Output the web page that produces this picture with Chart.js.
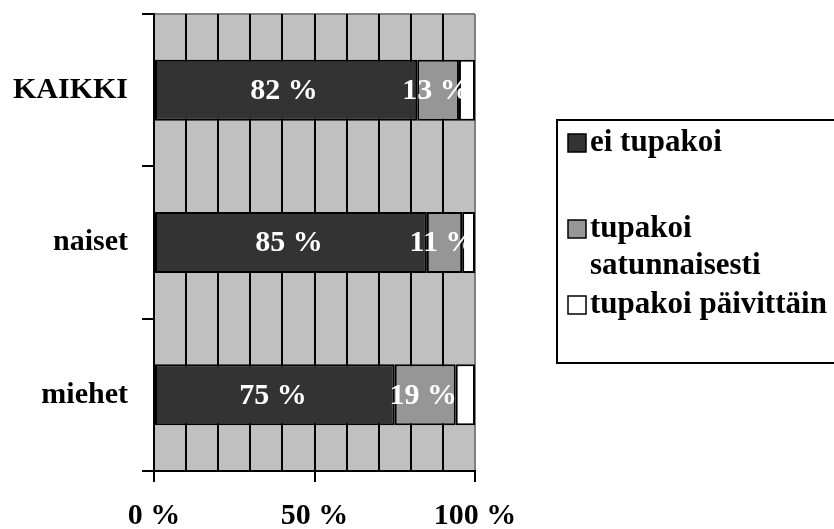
<!DOCTYPE html>
<html>
<head>
<meta charset="utf-8">
<script src="https://cdn.jsdelivr.net/npm/chart.js@4/dist/chart.umd.min.js"></script>
<style>
  html, body { margin: 0; padding: 0; background: #fff; }
  #wrap { width: 834px; height: 529px; position: relative; }
</style>
</head>
<body>
<div id="wrap"><canvas id="smokingChart"></canvas></div>
<script>
// data
const groups = ['KAIKKI', 'naiset', 'miehet'];
const eiTupakoi = [82, 85, 75];
const satunnaisesti = [13, 11, 19];
const paivittain = [5, 4, 6];
const seriesNames = ['ei tupakoi', 'tupakoi satunnaisesti', 'tupakoi päivittäin'];
const legendLines = [['ei tupakoi'], ['tupakoi', 'satunnaisesti'], ['tupakoi päivittäin']];
const xTickLabels = [0, 50, 100];

const FONT = '"Liberation Serif", "Times New Roman", serif';

const plotBackground = {
    id: 'plotBackground',
    beforeDraw(chart) {
        const { ctx, chartArea: a } = chart;
        ctx.save();
        ctx.fillStyle = '#c0c0c0';
        ctx.fillRect(a.left, a.top, a.right - a.left, a.bottom - a.top);
        ctx.strokeStyle = '#808080';
        ctx.lineWidth = 2;
        ctx.beginPath();
        ctx.moveTo(a.left, a.top);
        ctx.lineTo(a.right, a.top);
        ctx.stroke();
        ctx.restore();
    }
};

const segmentLabels = {
    id: 'segmentLabels',
    afterDatasetsDraw(chart) {
        const ctx = chart.ctx;
        ctx.save();
        ctx.fillStyle = '#fff';
        ctx.font = 'bold 30px ' + FONT;
        ctx.textAlign = 'center';
        ctx.textBaseline = 'middle';
        [0, 1].forEach(i => {
            const meta = chart.getDatasetMeta(i);
            meta.data.forEach((el, j) => {
                const v = chart.data.datasets[i].data[j];
                ctx.fillText(v + ' %', (el.x + el.base) / 2 - 2, el.y + 1);
            });
        });
        ctx.restore();
    }
};

const boxLegend = {
    id: 'boxLegend',
    afterDraw(chart) {
        const ctx = chart.ctx;
        const left = 557, top = 120, bottom = 363;
        ctx.save();
        ctx.strokeStyle = '#000';
        ctx.lineWidth = 2;
        ctx.strokeRect(left, top, 834 - left + 10, bottom - top);
        ctx.font = 'bold 31px ' + FONT;
        ctx.textBaseline = 'middle';
        ctx.textAlign = 'left';
        const rowY = [143, 229, 305];
        chart.data.datasets.forEach((ds, i) => {
            const y = rowY[i];
            ctx.fillStyle = ds.backgroundColor;
            ctx.fillRect(568, y - 9, 18, 18);
            ctx.lineWidth = 1.5;
            ctx.strokeRect(568, y - 9, 18, 18);
            ctx.fillStyle = '#000';
            legendLines[i].forEach((line, k) => {
                ctx.fillText(line, 590, y + k * 37);
            });
        });
        ctx.restore();
    }
};

new Chart(document.getElementById('smokingChart'), {
    type: 'bar',
    data: {
        labels: groups,
        datasets: [
            { label: seriesNames[0], data: eiTupakoi, backgroundColor: '#333333' },
            { label: seriesNames[1], data: satunnaisesti, backgroundColor: '#969696' },
            { label: seriesNames[2], data: paivittain, backgroundColor: '#ffffff' }
        ]
    },
    options: {
        indexAxis: 'y',
        responsive: true,
        maintainAspectRatio: false,
        animation: false,
        datasets: {
            bar: {
                borderColor: '#000',
                borderWidth: 2,
                borderSkipped: false,
                barPercentage: 0.4,
                categoryPercentage: 1.0
            }
        },
        layout: { padding: { left: 0, top: 14, right: 359, bottom: 0 } },
        plugins: {
            legend: { display: false },
            tooltip: { enabled: false }
        },
        scales: {
            x: {
                stacked: true,
                min: 0,
                max: 100,
                afterFit(scale) {
                    scale.height = 58;
                    scale.paddingLeft = 0;
                    scale.paddingRight = 0;
                },
                ticks: {
                    stepSize: 10,
                    autoSkip: false,
                    maxRotation: 0,
                    color: '#000',
                    padding: 16,
                    font: { family: FONT, size: 30, weight: 'bold' },
                    callback: v => xTickLabels.includes(v) ? v + ' %' : ''
                },
                grid: {
                    color: c => (c.tick && c.tick.value === 100) ? '#808080' : '#000',
                    lineWidth: 2,
                    tickLength: 11,
                    tickColor: c => (c.tick && xTickLabels.includes(c.tick.value)) ? '#000' : 'rgba(0,0,0,0)'
                },
                border: { color: '#000', width: 2 }
            },
            y: {
                stacked: true,
                afterFit(scale) {
                    scale.width = 154;
                    scale.paddingTop = 0;
                    scale.paddingBottom = 0;
                },
                ticks: {
                    color: '#000',
                    padding: 14,
                    font: { family: FONT, size: 30, weight: 'bold' }
                },
                grid: {
                    drawOnChartArea: false,
                    color: '#000',
                    lineWidth: 2,
                    tickLength: 12
                },
                border: { color: '#000', width: 2 }
            }
        }
    },
    plugins: [plotBackground, segmentLabels, boxLegend]
});
</script>
</body>
</html>
